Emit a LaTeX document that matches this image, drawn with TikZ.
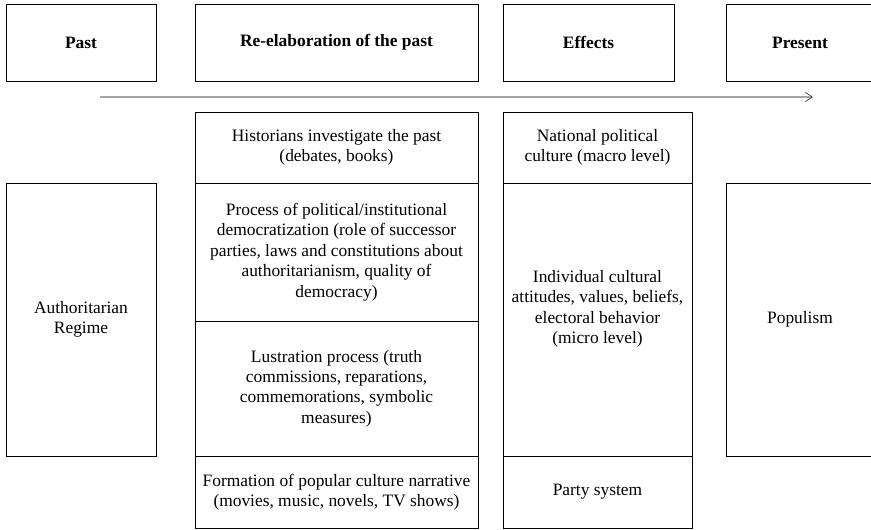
\documentclass[tikz,border=0pt]{standalone}
\usepackage{fontspec}
\setmainfont{Liberation Serif}
\usetikzlibrary{arrows.meta}
\begin{document}
\begin{tikzpicture}[x=1pt,y=-1pt,
  base/.style={font=\fontsize{17.4}{20.4}\selectfont, align=center, inner sep=0pt},
  box/.style={base, draw, line width=0.9pt},
  hdr/.style={box, font=\fontsize{17.4}{20.4}\selectfont\bfseries},
  timeline/.style={draw={rgb,255:red,165;green,165;blue,165}, line width=1.3pt,
    -{Straight Barb[length=7pt,width=9pt,line width=0.7pt,color=black!75]}}]
\useasboundingbox (0,0) rectangle (871,530);
\clip (0,0) rectangle (871,530);
% header row
\node[hdr, minimum width=150, minimum height=77] (past) at (81,42.5) {Past};
\node[hdr, minimum width=283, minimum height=77] (reel) at (336.5,42.5) {Re-elaboration of the past};
\node[hdr, minimum width=171, minimum height=77] (eff) at (588.5,42.5) {Effects};
\node[hdr, minimum width=148, minimum height=77] (pres) at (800,42.5) {Present};
% timeline arrow
\coordinate (tstart) at (100,97);
\coordinate (tend) at (813,97);
\draw[timeline] (tstart) -- (tend);
% side boxes
\node[box, minimum width=150, minimum height=273] (auth) at (81,319.5) {Authoritarian\\Regime};
\node[box, minimum width=148, minimum height=273] (pop) at (800,319.5) {Populism};
% re-elaboration column
\node[box, minimum width=283, minimum height=71] (r1) at (336.5,147.5) {Historians investigate the past\\(debates, books)};
\node[box, minimum width=283, minimum height=138] (r2) at (336.5,252) {Process of political/institutional\\democratization (role of successor\\parties, laws and constitutions about\\authoritarianism, quality of\\democracy)};
\node[box, minimum width=283, minimum height=135] (r3) at (336.5,388.5) {Lustration process (truth\\commissions, reparations,\\commemorations, symbolic\\measures)};
\node[box, minimum width=283, minimum height=72] (r4) at (336.5,492) {Formation of popular culture narrative\\(movies, music, novels, TV shows)};
% effects column
\node[box, minimum width=189, minimum height=71] (e1) at (597.5,147.5) {National political\\culture (macro level)};
\node[box, minimum width=189, minimum height=273] (e2) at (597.5,319.5) {};
\node[base] (e2t) at (597.5,309) {Individual cultural\\attitudes, values, beliefs,\\electoral behavior\\(micro level)};
\node[box, minimum width=189, minimum height=72] (e3) at (597.5,492) {Party system};
\end{tikzpicture}
\end{document}
